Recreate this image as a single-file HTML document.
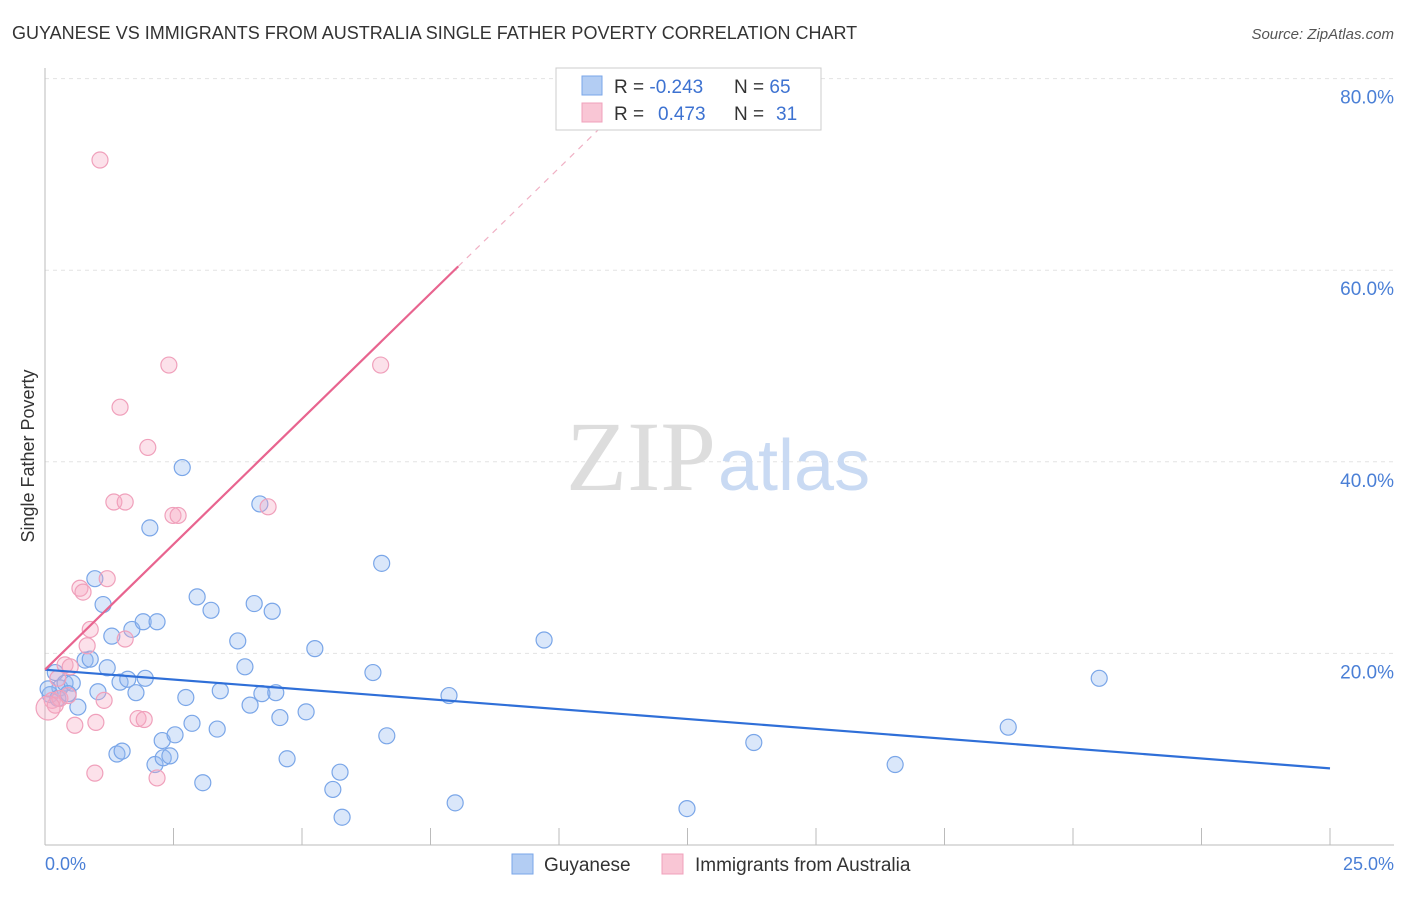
<!DOCTYPE html>
<html><head><meta charset="utf-8"><style>
body{margin:0;background:#fff;font-family:"Liberation Sans",sans-serif;}
svg text{font-family:"Liberation Sans",sans-serif;}
</style></head><body>
<svg width="1406" height="892">
<text x="12" y="39" font-size="18" fill="#333">GUYANESE VS IMMIGRANTS FROM AUSTRALIA SINGLE FATHER POVERTY CORRELATION CHART</text>
<text x="1394" y="39" font-size="15" fill="#555" font-style="italic" text-anchor="end">Source: ZipAtlas.com</text>
<g id="grid"></g>
<line x1="45" y1="68" x2="45" y2="845" stroke="#bbb"/>
<line x1="45" y1="845" x2="1394" y2="845" stroke="#bbb"/>
<g id="xticks"></g>
<text x="45" y="870" font-size="18" fill="#4a7fd6">0.0%</text>
<text x="1394" y="870" font-size="18" fill="#4a7fd6" text-anchor="end">25.0%</text>
<text transform="translate(34,456) rotate(-90)" font-size="18" fill="#333" text-anchor="middle">Single Father Poverty</text>
<text x="716" y="490" font-size="100" fill="#ddd" text-anchor="end" style="font-family:'Liberation Serif',serif">ZIP</text>
<text x="718" y="490" font-size="72" fill="#c9daf3">atlas</text>
<g id="pts"></g>
<g id="lines"></g>
<g>
<rect x="556" y="68" width="265" height="62" fill="#fff" stroke="#ccc"/>
<rect x="582" y="76" width="20" height="19" fill="#b3cdf3" stroke="#7aa6e8"/>
<rect x="582" y="103" width="20" height="19" fill="#f9c6d5" stroke="#f0a0bb"/>
<text x="614" y="93" font-size="19" fill="#333">R = <tspan fill="#3d72d1">-0.243</tspan><tspan x="734">N = </tspan><tspan fill="#3d72d1">65</tspan></text>
<text x="614" y="120" font-size="19" fill="#333">R = <tspan x="658" fill="#3d72d1">0.473</tspan><tspan x="734">N = </tspan><tspan x="776" fill="#3d72d1">31</tspan></text>
</g>
<g>
<rect x="512" y="854" width="21" height="20" fill="#b3cdf3" stroke="#7aa6e8"/>
<text x="544" y="871" font-size="19" fill="#333">Guyanese</text>
<rect x="662" y="854" width="21" height="20" fill="#f9c6d5" stroke="#f0a0bb"/>
<text x="695" y="871" font-size="19" fill="#333">Immigrants from Australia</text>
</g>
</svg>
<script>
const yTicks=[20,40,60,80];
const xTicks=[0,2.5,5,7.5,10,12.5,15,17.5,20,22.5,25];
const blueX=[0.2,0.29,0.39,0.53,0.64,0.78,0.88,0.97,1.03,1.13,1.21,1.3,1.4,1.5,1.46,1.61,1.69,1.77,1.91,1.95,2.04,2.14,2.18,2.28,2.3,2.43,2.53,2.67,2.74,2.86,2.96,3.07,3.23,3.35,3.41,3.75,3.89,3.99,4.07,4.18,4.22,4.42,4.49,4.57,4.71,5.08,5.25,5.6,5.74,5.78,6.38,6.55,6.65,7.86,7.98,9.71,12.49,13.79,16.54,18.74,20.51,0.1,0.06,0.25,0.45];
const blueY=[18.0,16.4,16.9,16.9,14.4,19.3,19.4,27.8,16.0,25.1,18.5,21.8,9.5,9.8,17.0,17.3,22.5,15.9,23.3,17.4,33.1,8.4,23.3,10.9,9.1,9.3,11.5,39.4,15.4,12.7,25.9,6.5,24.5,12.1,16.1,21.3,18.6,14.6,25.2,35.6,15.8,24.4,15.9,13.3,9.0,13.9,20.5,5.8,7.6,2.9,18.0,29.4,11.4,15.6,4.4,21.4,3.8,10.7,8.4,12.3,17.4,15.7,16.3,15.3,15.8];
const pinkX=[1.07,2.41,6.53,1.46,2.0,1.34,1.56,2.49,2.59,4.34,0.68,0.74,1.21,0.88,0.82,1.56,0.39,0.49,0.25,0.14,0.2,0.29,0.45,1.15,0.99,0.58,1.81,1.93,0.97,2.18,0.06];
const pinkY=[71.5,50.1,50.1,45.7,41.5,35.8,35.8,34.4,34.4,35.3,26.8,26.4,27.8,22.5,20.8,21.5,18.8,18.6,17.4,15.1,14.6,15.3,15.6,15.1,12.8,12.5,13.2,13.1,7.5,7.0,14.3];
const blueFit=[18.3,8.0], pinkFit=[18.3,60.4], pinkEnd=8.04;
const X=v=>45+v*51.4, Y=v=>845-v*9.58;
const ns='http://www.w3.org/2000/svg';
function mk(t,a,p){const e=document.createElementNS(ns,t);for(const k in a)e.setAttribute(k,a[k]);p.appendChild(e);return e;}
const grid=document.getElementById('grid');
yTicks.forEach(v=>{
 const l=mk('line',{x1:45,x2:1394,y1:Y(v),y2:Y(v),stroke:'#e3e3e3','stroke-dasharray':'4,4'},grid);
 
 
 const t=mk('text',{x:1394,y:Y(v)+25,'font-size':19,fill:'#4a7fd6','text-anchor':'end'},grid);
 t.textContent=v.toFixed(1)+'%';
 
 
});
const xt=document.getElementById('xticks');
xTicks.forEach(v=>{
 const l=mk('line',{x1:X(v),x2:X(v),y1:828,y2:845,stroke:'#bbb'},xt);
 
 
});
const pts=document.getElementById('pts');
blueX.forEach((x,i)=>{
 const c=mk('circle',{cx:X(x),cy:Y(blueY[i]),r:8,fill:'rgba(150,185,240,0.35)',stroke:'#7aa6e8','stroke-width':1.2},pts);
 
 
});
pinkX.forEach((x,i)=>{
 const c=mk('circle',{cx:X(x),cy:Y(pinkY[i]),r:i==30?12:8,fill:'rgba(245,170,195,0.35)',stroke:'#f0a0bb','stroke-width':1.2},pts);
 
 
});
const ln=document.getElementById('lines');
const b=mk('line',{x1:X(0),y1:Y(blueFit[0]),x2:X(25),y2:Y(blueFit[1]),stroke:'#2f6fd8','stroke-width':2.2},ln);


const slope=(pinkFit[1]-pinkFit[0])/pinkEnd;
const p=mk('line',{x1:X(0),y1:Y(pinkFit[0]),x2:X(pinkEnd),y2:Y(pinkFit[1]),stroke:'#e8648f','stroke-width':2.2},ln);


const xe=11;
const d=mk('line',{x1:X(pinkEnd),y1:Y(pinkFit[1]),x2:X(xe),y2:Y(pinkFit[0]+slope*xe),stroke:'#f0b0c4','stroke-width':1.2,'stroke-dasharray':'6,6'},ln);


</script>
</body></html>
